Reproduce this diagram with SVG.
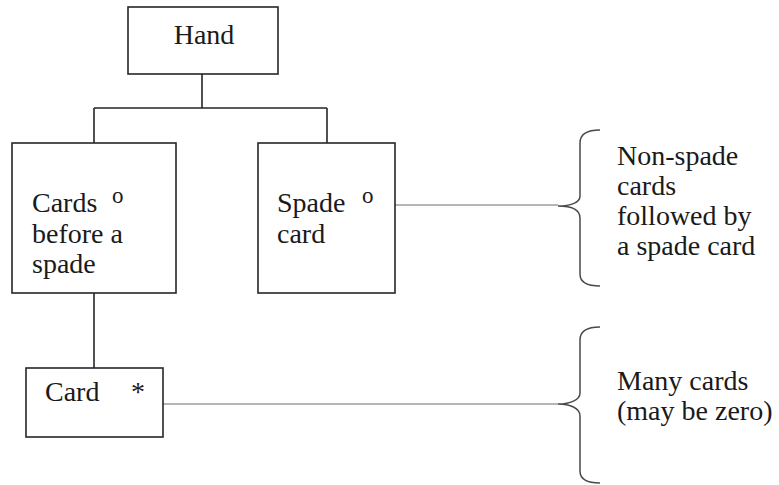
<svg xmlns="http://www.w3.org/2000/svg" width="779" height="485" viewBox="0 0 779 485">
  <style>
    .box { fill: #ffffff; stroke: #262626; stroke-width: 1.6; }
    .tree { fill: none; stroke: #262626; stroke-width: 1.6; }
    .lead { fill: none; stroke: #9e9e9e; stroke-width: 1.4; }
    .brace { fill: none; stroke: #4a4a4a; stroke-width: 1.5; }
    text { font-family: 'Liberation Serif', 'Times New Roman', Times, serif; fill: #1a1a1a; }
    .lbl { font-size: 28px; }
    .mark { font-size: 23px; }
  </style>

  <!-- tree lines and leader lines -->
  <g id="connectors">
    <path class="tree" d="M202 74 V108 M94 108 H327 M94 108 V143 M327 108 V143"/>
    <path class="tree" d="M94 293 V368"/>
    <path class="lead" d="M395 205 H558"/>
    <path class="lead" d="M163 404 H558"/>
  </g>

  <g id="hand">
    <rect class="box" x="128" y="7" width="150" height="67"/>
    <text class="lbl" x="204" y="44" text-anchor="middle" font-family="Liberation Serif, serif">Hand</text>
  </g>

  <g id="cards-before-spade" font-family="Liberation Serif, serif">
    <rect class="box" x="12" y="143" width="164" height="150"/>
    <text class="lbl" x="32" y="212">Cards</text>
    <text class="lbl" x="32" y="243">before a</text>
    <text class="lbl" x="32" y="273">spade</text>
    <text class="mark" x="112" y="203">o</text>
  </g>

  <g id="spade-card">
    <rect class="box" x="258" y="143" width="137" height="150"/>
    <text class="lbl" x="277" y="212">Spade</text>
    <text class="lbl" x="277" y="243">card</text>
    <text class="mark" x="362" y="203">o</text>
  </g>

  <g id="card">
    <rect class="box" x="26" y="368" width="137" height="69"/>
    <text class="lbl" x="45" y="401">Card</text>
    <text class="lbl" x="131" y="401">*</text>
  </g>

  <!-- curly braces with their notes -->
  <g id="note-sequence">
    <path class="brace" d="M600 130 C588 130 580 133 580 143 V196 C580 203 570 206 558 206 C570 206 580 209 580 218 V274 C580 283 588 286 600 286"/>
    <text class="lbl" x="617" y="165">Non-spade</text>
    <text class="lbl" x="617" y="195">cards</text>
    <text class="lbl" x="617" y="225">followed by</text>
    <text class="lbl" x="617" y="255">a spade card</text>
  </g>

  <g id="note-iteration">
    <path class="brace" d="M600 327 C588 327 580 330 580 340 V393 C580 400 570 404 558 404 C570 404 580 408 580 416 V471 C580 480 588 483 600 483"/>
    <text class="lbl" x="617" y="390">Many cards</text>
    <text class="lbl" x="617" y="420">(may be zero)</text>
  </g>
</svg>
